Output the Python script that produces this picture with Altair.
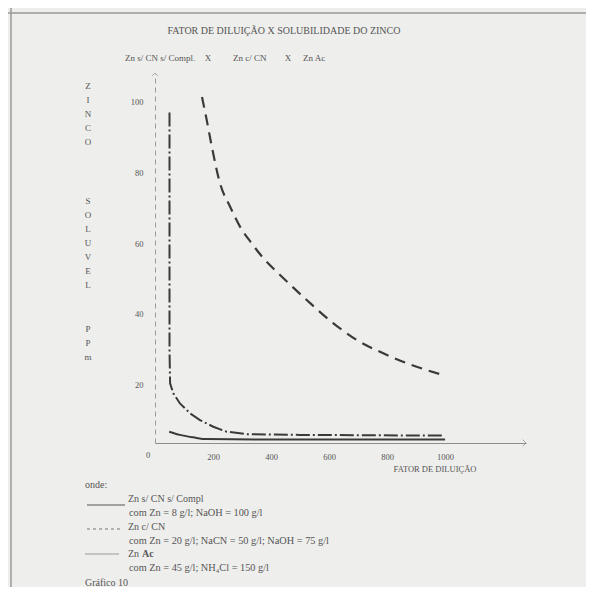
import altair as alt
import pandas as pd

# ---- data ----
# Zn Ac (dashed)
ac_x = [162, 178, 196, 224, 259, 293, 333, 374, 431, 523, 615, 695, 787, 868, 983]
ac_y = [101.4, 95, 87.3, 77, 70.3, 64.7, 60, 55.7, 51, 43.9, 37.3, 32.6, 28.8, 26, 22.9]
# Zn c/ CN (dash-dot)
cn_x = [50, 50, 50, 52, 63, 86, 121, 155, 201, 247, 316, 500, 700, 994]
cn_y = [97, 60, 30, 20.3, 17.5, 14.6, 11.8, 9.9, 8, 6.6, 5.9, 5.7, 5.6, 5.5]
# Zn s/ CN s/ Compl (solid)
sc_x = [49, 86, 132, 178, 400, 700, 1000]
sc_y = [6.6, 5.7, 5.0, 4.5, 4.4, 4.4, 4.4]

x_ticks = [200, 400, 600, 800, 1000]
y_ticks = [20, 40, 60, 80, 100]

W, H = 371, 370
FONT = "Liberation Serif"
TXT = "#555555"
LINE = "#3a3a3a"

xs = alt.Scale(domain=[0, 1279], nice=False, zero=False)
ys = alt.Scale(domain=[3.4, 108.2], nice=False, zero=False)

def df(x, y):
    return pd.DataFrame({"x": x, "y": y, "i": list(range(len(x)))})

xenc = alt.X("x:Q", scale=xs, axis=alt.Axis(values=x_ticks, format="d", ticks=False, grid=False, title=None,
             domainColor="#8c8c8c", labelFont=FONT, labelFontSize=8.5, labelColor=TXT, labelPadding=9))
yenc = alt.Y("y:Q", scale=ys, axis=alt.Axis(values=y_ticks, format="d", ticks=False, grid=False, title=None,
             domainColor="#9a9a9a", domainDash=[5, 4], labelFont=FONT, labelFontSize=8.5,
             labelColor=TXT, labelPadding=12))

sc = alt.Chart(df(sc_x, sc_y)).mark_line(color=LINE, strokeWidth=2, interpolate="monotone").encode(
    x=xenc, y=yenc, order="i:Q")
cn = alt.Chart(df(cn_x, cn_y)).mark_line(color=LINE, strokeWidth=2, strokeDash=[14, 3, 2, 3]).encode(
    x="x:Q", y="y:Q", order="i:Q")
ac = alt.Chart(df(ac_x, ac_y)).mark_line(color=LINE, strokeWidth=2.2, strokeDash=[11, 7],
                                          interpolate="monotone").encode(x="x:Q", y="y:Q", order="i:Q")

layers = [sc, cn, ac]

# axis arrows
layers.append(alt.Chart(pd.DataFrame({"a": [0]})).mark_point(
    shape="M-1,-1L0,0L-1,1", size=45, filled=False, color="#8c8c8c", strokeWidth=1).encode(
    x=alt.value(W), y=alt.value(H)))
layers.append(alt.Chart(pd.DataFrame({"a": [0]})).mark_point(
    shape="M-1,1L0,0L1,1", size=40, filled=False, color="#9a9a9a", strokeWidth=1).encode(
    x=alt.value(0), y=alt.value(0)))

# frame lines of the scanned page
layers.append(alt.Chart(pd.DataFrame({"a": [0]})).mark_rule(color="#9a9a9a", strokeWidth=1.5).encode(
    x=alt.value(-147), x2=alt.value(431), y=alt.value(-60)))
layers.append(alt.Chart(pd.DataFrame({"a": [0]})).mark_rule(color="#9a9a9a", strokeWidth=1.5).encode(
    x=alt.value(-144), y=alt.value(-65), y2=alt.value(514)))

# legend sample lines
layers.append(alt.Chart(pd.DataFrame({"a": [0]})).mark_rule(color="#555555", strokeWidth=1.2).encode(
    x=alt.value(-68), x2=alt.value(-30), y=alt.value(432)))
layers.append(alt.Chart(pd.DataFrame({"a": [0]})).mark_rule(color="#777777", strokeWidth=1, strokeDash=[3, 3]).encode(
    x=alt.value(-68), x2=alt.value(-32), y=alt.value(456)))
layers.append(alt.Chart(pd.DataFrame({"a": [0]})).mark_rule(color="#999999", strokeWidth=1).encode(
    x=alt.value(-70), x2=alt.value(-36), y=alt.value(481)))

# texts: (text, x, y, align, size, weight)
title = "FATOR DE DILUIÇÃO  X  SOLUBILIDADE DO ZINCO"
texts = [
    (title, 129, -42, "center", 10, "normal"),
    ("Zn s/ CN s/ Compl.", -30, -15, "left", 9, "normal"),
    ("X", 53, -15, "center", 9, "normal"),
    ("Zn c/ CN", 78, -15, "left", 9, "normal"),
    ("X", 133, -15, "center", 9, "normal"),
    ("Zn Ac", 148, -15, "left", 9, "normal"),
    ("FATOR DE DILUIÇÃO", 280, 396, "center", 8.5, "normal"),
    ("0", -7, 382, "center", 8.5, "normal"),
    ("onde:", -70, 412, "left", 10, "normal"),
    ("Zn s/ CN s/ Compl", -27, 426, "left", 10, "normal"),
    ("com Zn = 8 g/l; NaOH = 100 g/l", -26, 440, "left", 10.3, "normal"),
    ("Zn c/ CN", -27, 454, "left", 10, "normal"),
    ("com Zn = 20 g/l; NaCN = 50 g/l; NaOH = 75 g/l", -26, 468, "left", 10.3, "normal"),
    ("Zn", -27, 481, "left", 10, "normal"),
    ("Ac", -13, 481, "left", 10, "bold"),
    ("com Zn = 45 g/l; NH₄Cl = 150 g/l", -26, 495, "left", 10.3, "normal"),
    ("Gráfico 10", -70, 510, "left", 10, "normal"),
]
for t, tx, ty, al, sz, wt in texts:
    layers.append(alt.Chart(pd.DataFrame({"a": [0]})).mark_text(
        text=t, align=al, baseline="middle", font=FONT, fontSize=sz, fontWeight=wt, color=TXT).encode(
        x=alt.value(tx), y=alt.value(ty)))

# vertical y-axis title letters
y_title_blocks = [("Z\nI\nN\nC\nO", 14), ("S\nO\nL\nU\nV\nE\nL", 129), ("P\nP\nm", 257)]
for t, ty in y_title_blocks:
    layers.append(alt.Chart(pd.DataFrame({"a": [0]})).mark_text(
        text=t, lineBreak="\n", lineHeight=14, align="center", baseline="top", font=FONT,
        fontSize=9, color=TXT).encode(x=alt.value(-67), y=alt.value(ty - 5)))

chart = alt.layer(*layers).properties(
    width=W, height=H,
    autosize=alt.AutoSizeParams(type="none"),
    padding={"left": 147, "top": 65, "right": 60, "bottom": 144},
    background="#eeeeec",
).configure_view(stroke=None)

chart.save("out.html", embed_options={"renderer": "svg", "actions": False})
